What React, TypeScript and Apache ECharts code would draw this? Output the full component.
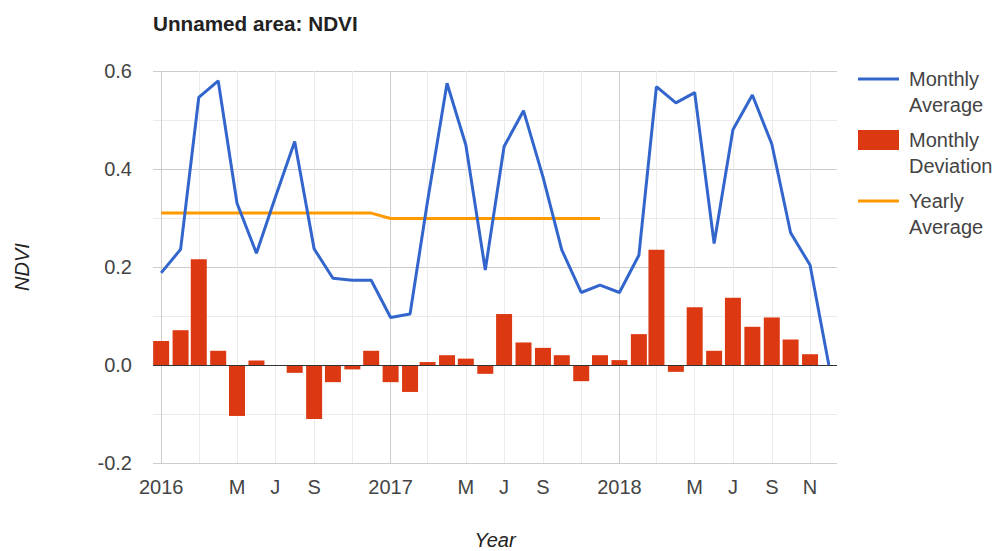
import React, { useEffect, useRef } from "react";
import * as echarts from "echarts";

const months = [
  "2016-01", "2016-02", "2016-03", "2016-04", "2016-05", "2016-06",
  "2016-07", "2016-08", "2016-09", "2016-10", "2016-11", "2016-12",
  "2017-01", "2017-02", "2017-03", "2017-04", "2017-05", "2017-06",
  "2017-07", "2017-08", "2017-09", "2017-10", "2017-11", "2017-12",
  "2018-01", "2018-02", "2018-03", "2018-04", "2018-05", "2018-06",
  "2018-07", "2018-08", "2018-09", "2018-10", "2018-11", "2018-12",
];

const monthlyAverage = [
  0.188, 0.236, 0.546, 0.58, 0.33, 0.228, 0.342, 0.456, 0.237, 0.177, 0.173, 0.173,
  0.097, 0.104, 0.335, 0.575, 0.449, 0.194, 0.446, 0.519, 0.384, 0.235, 0.148, 0.163,
  0.148, 0.224, 0.568, 0.535, 0.556, 0.248, 0.48, 0.551, 0.451, 0.27, 0.204, 0.0,
];

const monthlyDeviation = [
  0.049, 0.071, 0.216, 0.029, -0.104, 0.009, -0.002, -0.016, -0.11, -0.035, -0.009, 0.029,
  -0.035, -0.055, 0.006, 0.02, 0.013, -0.018, 0.104, 0.046, 0.035, 0.02, -0.033, 0.02,
  0.01, 0.063, 0.235, -0.014, 0.118, 0.029, 0.137, 0.078, 0.097, 0.052, 0.022, -0.002,
];

const yearlyAverage: (number | null)[] = [
  0.31, 0.31, 0.31, 0.31, 0.31, 0.31, 0.31, 0.31, 0.31, 0.31, 0.31, 0.31,
  0.299, 0.299, 0.299, 0.299, 0.299, 0.299, 0.299, 0.299, 0.299, 0.299, 0.299, 0.299,
  null, null, null, null, null, null, null, null, null, null, null, null,
];

const gridMonths = [
  "2016-01", "2016-03", "2016-05", "2016-07", "2016-09", "2016-11",
  "2017-01", "2017-03", "2017-05", "2017-07", "2017-09", "2017-11",
  "2018-01", "2018-03", "2018-05", "2018-07", "2018-09", "2018-11",
];

const labelMonths = [
  "2016-01", "2016-05", "2016-07", "2016-09",
  "2017-01", "2017-05", "2017-07", "2017-09",
  "2018-01", "2018-05", "2018-07", "2018-09", "2018-11",
];

const monthInitials = ["J", "F", "M", "A", "M", "J", "J", "A", "S", "O", "N", "D"];

const xMin = "2015-12-19";
const xMax = "2018-12-14";

const yTicks = { min: -0.2, max: 0.6, interval: 0.2 };

const FONT = "Arial, 'Liberation Sans', sans-serif";

function toTs(s: string): number {
  const parts = s.split("-").map(Number);
  return Date.UTC(parts[0], parts[1] - 1, parts[2] || 1);
}

const legendLabels: Record<string, string> = {
  "Monthly Average": " \nMonthly\nAverage",
  "Monthly Deviation": " \nMonthly\nDeviation",
  "Yearly Average": " \nYearly\nAverage",
};

const LINE_ICON = "path://M0,0 L41,0 L41,3 L0,3 Z";

export default function App() {
  const ref = useRef<HTMLDivElement>(null);

  useEffect(() => {
    if (!ref.current) return;
    const chart = echarts.init(ref.current, null, { renderer: "svg" });

    const avgData = months.map((m, i) => [toTs(m), monthlyAverage[i]]);
    const devData = months.map((m, i) => [toTs(m), monthlyDeviation[i]]);
    const yearData = months
      .map((m, i) => [toTs(m), yearlyAverage[i]])
      .filter((d) => d[1] !== null);

    const gridColors = gridMonths.map((m) =>
      m.endsWith("-01") ? "#cccccc" : "#ebebeb"
    );

    chart.setOption({
      animation: false,
      textStyle: { fontFamily: FONT },
      title: {
        text: "Unnamed area: NDVI",
        left: 153,
        top: 13,
        padding: 0,
        textStyle: { fontSize: 20.7, fontWeight: "bold", color: "#222", fontFamily: FONT },
      },
      legend: {
        orient: "vertical",
        left: 858,
        top: 40,
        itemWidth: 41,
        itemHeight: 20,
        itemGap: -17,
        padding: 0,
        data: [
          { name: "Monthly Average", icon: LINE_ICON },
          { name: "Monthly Deviation", icon: "rect" },
          { name: "Yearly Average", icon: LINE_ICON },
        ],
        formatter: (name: string) => legendLabels[name] || name,
        textStyle: {
          fontSize: 20,
          color: "#444",
          lineHeight: 26,
          padding: [0, 0, 0, 5],
          fontFamily: FONT,
        },
      },
      grid: {
        left: 153,
        right: 158,
        top: 71,
        bottom: 88,
        containLabel: false,
        outerBoundsMode: "none",
      },
      xAxis: {
        type: "value",
        min: toTs(xMin),
        max: toTs(xMax),
        name: "Year",
        nameLocation: "middle",
        nameGap: 67,
        nameTextStyle: { fontSize: 20, fontStyle: "italic", color: "#222", fontFamily: FONT },
        axisLine: { show: false },
        axisTick: { show: false, customValues: gridMonths.map(toTs) },
        axisLabel: {
          customValues: labelMonths.map(toTs),
          fontSize: 20,
          color: "#444",
          margin: 14,
          fontFamily: FONT,
          formatter: (v: number) => {
            const d = new Date(v);
            const m = d.getUTCMonth();
            return m === 0 ? String(d.getUTCFullYear()) : monthInitials[m];
          },
        },
        splitLine: { show: true, lineStyle: { color: gridColors, width: 1 } },
      },
      yAxis: {
        type: "value",
        min: yTicks.min,
        max: yTicks.max,
        interval: yTicks.interval,
        name: "NDVI",
        nameLocation: "middle",
        nameGap: 121,
        nameRotate: 90,
        nameTextStyle: { fontSize: 20, fontStyle: "italic", color: "#222", fontFamily: FONT },
        axisLine: { show: false },
        axisTick: { show: false },
        axisLabel: {
          fontSize: 20,
          color: "#444",
          margin: 21,
          fontFamily: FONT,
          formatter: (v: number) => v.toFixed(1),
        },
        splitLine: { show: true, lineStyle: { color: "#cccccc" } },
        minorTick: { show: false, splitNumber: 2 },
        minorSplitLine: { show: true, lineStyle: { color: "#ebebeb" } },
      },
      series: [
        {
          name: "Monthly Average",
          type: "line",
          data: avgData,
          symbol: "none",
          z: 4,
          color: "#3366cc",
          lineStyle: { color: "#3366cc", width: 3 },
        },
        {
          name: "Monthly Deviation",
          type: "bar",
          data: devData,
          barWidth: 16,
          z: 2,
          color: "#dc3912",
          itemStyle: { color: "#dc3912" },
          markLine: {
            silent: true,
            symbol: "none",
            label: { show: false },
            lineStyle: { color: "#333333", type: "solid", width: 1 },
            data: [{ yAxis: 0 }],
          },
        },
        {
          name: "Yearly Average",
          type: "line",
          data: yearData,
          symbol: "none",
          z: 3,
          color: "#ff9900",
          lineStyle: { color: "#ff9900", width: 3 },
        },
      ],
    });

    return () => chart.dispose();
  }, []);

  return (
    <div
      ref={ref}
      style={{ position: "fixed", left: 0, top: 0, width: 995, height: 551, background: "#fff" }}
    />
  );
}
